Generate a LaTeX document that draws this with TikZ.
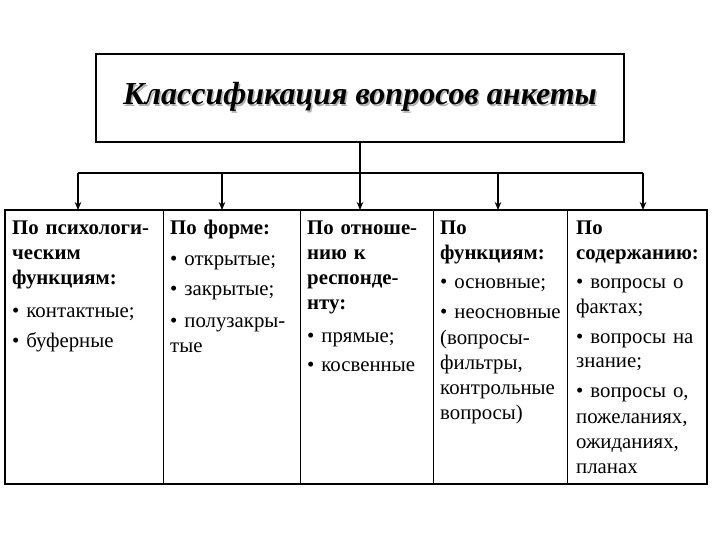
\documentclass[tikz,border=0pt]{standalone}
\usepackage{fontspec}
\setmainfont{Liberation Serif}
\usetikzlibrary{arrows.meta}
\newcommand\mycolfont{\fontsize{20.8}{25}\selectfont\setlength{\lineskiplimit}{-30pt}}
\newcommand\myshadowtext[1]{\makebox[0pt][l]{\hspace{1.5pt}\raisebox{-1.5pt}{\color{black!30}#1}}#1}
\begin{document}
\begin{tikzpicture}[x=1pt,y=-1pt,
  titlebox/.style={draw, line width=2pt, minimum width=528pt, minimum height=88pt, inner sep=0pt, outer sep=0pt,
    font=\fontsize{32}{36}\selectfont\bfseries\itshape},
  colbox/.style={draw, line width=1pt, inner sep=0pt, outer sep=0pt, minimum height=274pt},
  coltext/.style={anchor=base west, text width=160pt, align=left, inner sep=0pt,
    font=\mycolfont},
  conn/.style={line width=1.3pt},
  arr/.style={conn, -{Stealth[length=8pt,width=6.5pt]}}]
\useasboundingbox (0,0) rectangle (720,540);
\node[titlebox] (title) at (360,98) {\myshadowtext{Классификация вопросов анкеты}};
% columns
\node[colbox, minimum width=158pt] (c1) at (84,347) {};
\node[colbox, minimum width=137pt] (c2) at (231.5,347) {};
\node[colbox, minimum width=133pt] (c3) at (366.5,347) {};
\node[colbox, minimum width=134pt] (c4) at (500,347) {};
\node[colbox, minimum width=140pt] (c5) at (637,347) {};
\draw[line width=2pt] (c1.north west) rectangle (c5.south east);
% texts
\node[coltext] (t1) at (12,234) {\textbf{По психологи-}\\ \textbf{ческим}\\ \textbf{функциям:}\\[8pt] • контактные;\\[5pt] • буферные};
\node[coltext] (t2) at (170,234) {\textbf{По форме:}\\[7pt] • открытые;\\[5pt] • закрытые;\\[6pt] • полузакры-\\ тые};
\node[coltext] (t3) at (307,234) {\textbf{По отноше-}\\ \textbf{нию к}\\ \textbf{респонде-}\\ \textbf{нту:}\\[8pt] • прямые;\\[4pt] • косвенные};
\node[coltext] (t4) at (440,234) {\textbf{По}\\ \textbf{функциям:}\\[4pt] • основные;\\[6pt] • неосновные\\ (вопросы-\\ фильтры,\\ контрольные\\ вопросы)};
\node[coltext] (t5) at (576,234) {\textbf{По}\\ \textbf{содержанию:}\\[4pt] • вопросы о\\ фактах;\\[5pt] • вопросы на\\ знание;\\[5pt] • вопросы о,\\ пожеланиях,\\ ожиданиях,\\ планах};
% connectors
\coordinate (a1) at (78,173);
\coordinate (a2) at (222,173);
\coordinate (a3) at (360,173);
\coordinate (a4) at (498,173);
\coordinate (a5) at (643,173);
\draw[conn] (title.south) -- (a3);
\draw[conn] (a1) -- (a5);
\draw[arr] (a1) -- (a1 |- c1.north);
\draw[arr] (a2) -- (a2 |- c2.north);
\draw[arr] (a3) -- (a3 |- c3.north);
\draw[arr] (a4) -- (a4 |- c4.north);
\draw[arr] (a5) -- (a5 |- c5.north);
\end{tikzpicture}
\end{document}
